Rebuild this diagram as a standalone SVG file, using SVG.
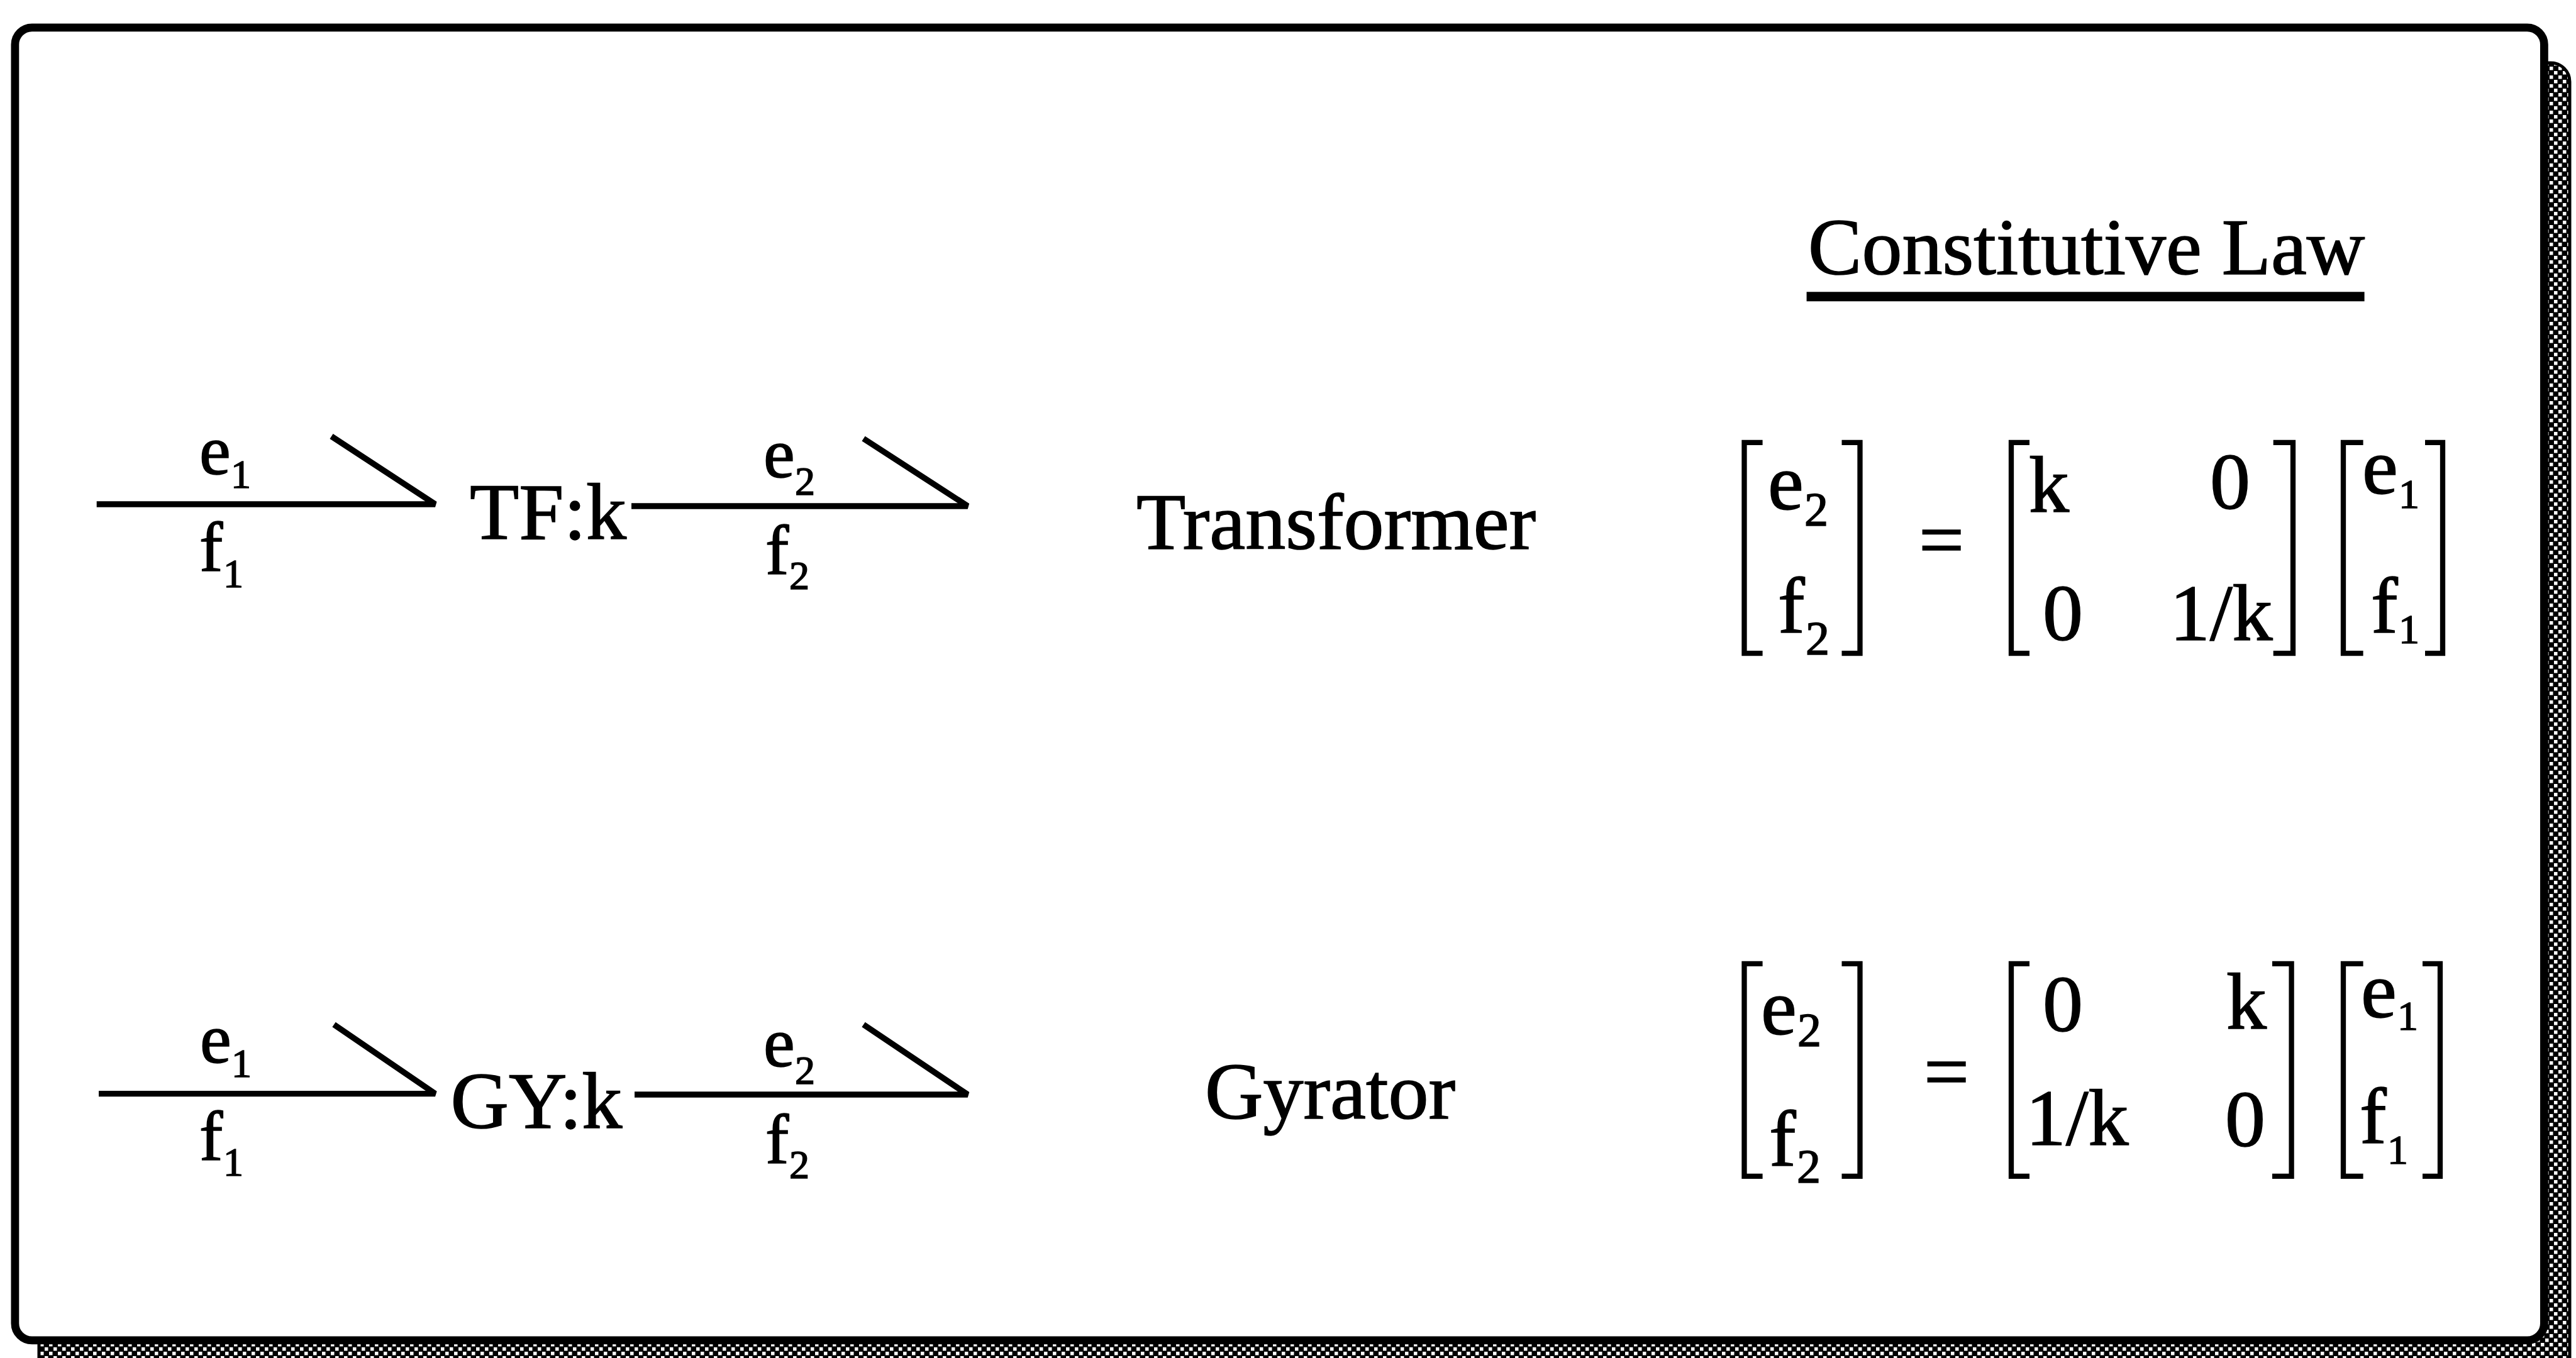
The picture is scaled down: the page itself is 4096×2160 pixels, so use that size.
<svg xmlns="http://www.w3.org/2000/svg" width="4096" height="2160" viewBox="0 0 4096 2160">
<style>
.t{font-family:"Liberation Serif","Times New Roman",serif;fill:#000;stroke:#000;stroke-width:1.6;font-size:128px}
.lbl{font-size:112px}
.sub{font-size:64px}
.ms2{font-size:76px}
.ms1{font-size:66px}
.bond{fill:none;stroke:#000;stroke-width:9.4;stroke-linejoin:bevel;stroke-linecap:butt}
.br{fill:none;stroke:#000;stroke-width:8.3;stroke-linejoin:miter;stroke-linecap:butt}
</style>
<defs>
<pattern id="dither" width="14" height="14" patternUnits="userSpaceOnUse">
<rect width="14" height="14" fill="#000"/>
<rect x="1" y="1" width="5.5" height="5.5" fill="#fff"/>
<rect x="8" y="8" width="5.5" height="5.5" fill="#fff"/>
</pattern>
</defs>
<rect width="4096" height="2160" fill="#fff"/>
<g id="frame">
<rect x="62" y="100" width="4024" height="2110" rx="30" fill="url(#dither)" stroke="#000" stroke-width="5"/>
<rect x="23.9" y="43.8" width="4021.5" height="2088.1" rx="27" fill="#fff" stroke="#000" stroke-width="12.8"/>
</g>
<g id="title">
<text class="t" x="2875" y="436">Constitutive Law</text>
<line x1="2872.6" y1="471.8" x2="3759.6" y2="471.8" stroke="#000" stroke-width="15"/>
</g>
<g id="connectors">
<path class="bond" d="M153.7 802 H692 L527 694"/>
<path class="bond" d="M1004 805 H1538.7 L1373 697.6"/>
<path class="bond" d="M157 1739.6 H692 L531 1629.7"/>
<path class="bond" d="M1009 1741 H1538.7 L1373 1629.7"/>
</g>
<g id="bond-labels-tf">
<text class="t lbl" x="317" y="753.5">e<tspan class="sub" x="367" y="776.4">1</tspan></text>
<text class="t lbl" x="317" y="907.9">f<tspan class="sub" x="355" y="933.5">1</tspan></text>
<text class="t lbl" x="1214" y="759">e<tspan class="sub" x="1264" y="786.6">2</tspan></text>
<text class="t lbl" x="1217" y="912.6">f<tspan class="sub" x="1255" y="937">2</tspan></text>
</g>
<g id="bond-labels-gy">
<text class="t lbl" x="318" y="1689.7">e<tspan class="sub" x="368" y="1713.3">1</tspan></text>
<text class="t lbl" x="317" y="1844.8">f<tspan class="sub" x="355" y="1870.4">1</tspan></text>
<text class="t lbl" x="1214" y="1696">e<tspan class="sub" x="1264" y="1723.5">2</tspan></text>
<text class="t lbl" x="1217" y="1849.5">f<tspan class="sub" x="1255" y="1874">2</tspan></text>
</g>
<g id="node-tf">
<text class="t" x="747" y="857">TF:k</text>
</g>
<g id="node-gy">
<text class="t" x="716.5" y="1794.2">GY:k</text>
</g>
<g id="label-transformer">
<text class="t" x="1807" y="873">Transformer</text>
</g>
<g id="label-gyrator">
<text class="t" x="1916" y="1779">Gyrator</text>
</g>
<g id="eq-transformer">
<path class="br" d="M2802.6 703.8 H2773.5 V1039.2 H2802.6"/>
<path class="br" d="M2928.5 703.8 H2957.5 V1039.2 H2928.5"/>
<path class="br" d="M3227 703.8 H3198 V1039.2 H3227"/>
<path class="br" d="M3614.7 703.8 H3646 V1039.2 H3614.7"/>
<path class="br" d="M3757.6 703.8 H3726 V1039.2 H3757.6"/>
<path class="br" d="M3856 703.8 H3884 V1039.2 H3856"/>
<text class="t" x="2811" y="809.5">e<tspan class="ms2" x="2869" y="835.8">2</tspan></text>
<text class="t" x="2827" y="1005.6">f<tspan class="ms2" x="2871" y="1041.3">2</tspan></text>
<text class="t" x="3051" y="900.7">=</text>
<text class="t" x="3226" y="814">k</text>
<text class="t" x="3514" y="809">0</text>
<text class="t" x="3248" y="1017.7">0</text>
<text class="t" x="3450" y="1017.7">1/k</text>
<text class="t" x="3756" y="785">e<tspan class="ms1" x="3814" y="807.5">1</tspan></text>
<text class="t" x="3770" y="1005.6">f<tspan class="ms1" x="3814" y="1022.5">1</tspan></text>
</g>
<g id="eq-gyrator">
<path class="br" d="M2802.6 1532.8 H2773.5 V1870.9 H2802.6"/>
<path class="br" d="M2928.5 1532.8 H2957.5 V1870.9 H2928.5"/>
<path class="br" d="M3227 1532.8 H3198 V1870.9 H3227"/>
<path class="br" d="M3613 1532.8 H3643.6 V1870.9 H3613"/>
<path class="br" d="M3757.6 1532.8 H3726 V1870.9 H3757.6"/>
<path class="br" d="M3852 1532.8 H3880 V1870.9 H3852"/>
<text class="t" x="2800" y="1644.6">e<tspan class="ms2" x="2858" y="1664">2</tspan></text>
<text class="t" x="2813" y="1853.5">f<tspan class="ms2" x="2857" y="1881">2</tspan></text>
<text class="t" x="3059" y="1746.6">=</text>
<text class="t" x="3248" y="1640">0</text>
<text class="t" x="3540" y="1636">k</text>
<text class="t" x="3221" y="1820.5">1/k</text>
<text class="t" x="3538" y="1822.5">0</text>
<text class="t" x="3754" y="1617.6">e<tspan class="ms1" x="3812" y="1637.8">1</tspan></text>
<text class="t" x="3752" y="1817.8">f<tspan class="ms1" x="3796" y="1850.8">1</tspan></text>
</g>
</svg>
